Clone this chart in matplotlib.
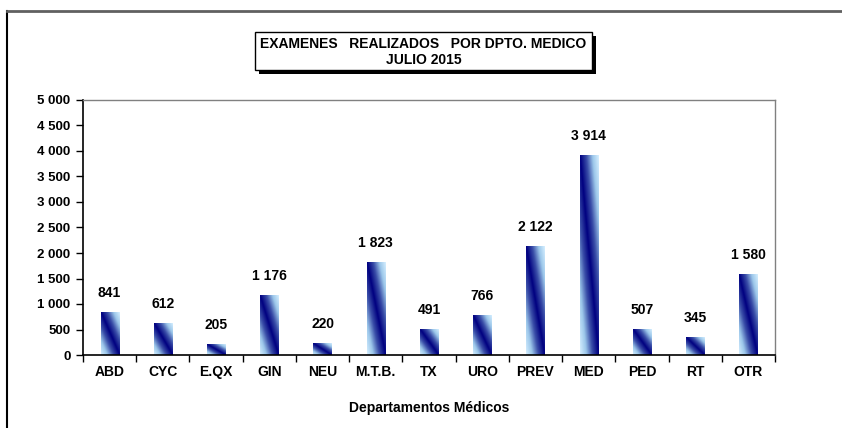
import numpy as np
import matplotlib
matplotlib.use("Agg")
import matplotlib.pyplot as plt
from matplotlib.patches import Rectangle
from matplotlib.lines import Line2D
from matplotlib.colors import LinearSegmentedColormap

categories = ["ABD", "CYC", "E.QX", "GIN", "NEU", "M.T.B.", "TX", "URO", "PREV", "MED", "PED", "RT", "OTR"]
values = [841, 612, 205, 1176, 220, 1823, 491, 766, 2122, 3914, 507, 345, 1580]
yticks = [0, 500, 1000, 1500, 2000, 2500, 3000, 3500, 4000, 4500, 5000]

def fmt(v):
    return f"{v:,}".replace(",", " ")

plt.rcParams['font.family'] = ['Liberation Sans', 'DejaVu Sans']

fig = plt.figure(figsize=(8.42, 4.28), dpi=100)
W, H = 842, 428
ax = fig.add_axes([83 / W, 1 - 355 / H, (775 - 83) / W, (355 - 100) / H])

cmap = LinearSegmentedColormap.from_list("g", ["#000080", "#3a4ea8", "#9cc7ea", "#d6efff"])
n = len(categories)
x = np.arange(n)
bw = 0.34
uu, vv = np.meshgrid(np.linspace(0, 1, 60), np.linspace(0, 1, 200))
d = np.abs(uu + vv - 1)
for xi, v in zip(x, values):
    ax.imshow(d, cmap=cmap, vmin=0, vmax=1, origin="lower", aspect="auto",
              extent=(xi - bw / 2, xi + bw / 2, 0, v), interpolation="bilinear", zorder=2)
    ax.annotate(fmt(v), (xi, v), xytext=(0, 9), textcoords="offset points",
                ha="center", va="bottom", fontsize=10, fontweight="bold")

ax.set_xlim(-0.5, n - 0.5)
ax.set_ylim(0, 5000)
ax.set_yticks(yticks)
ax.set_yticklabels([fmt(t) for t in yticks], fontsize=9.5, fontweight="bold")
ax.set_xticks(x)
ax.set_xticklabels(categories, fontsize=10, fontweight="bold")
ax.set_xticks(np.arange(n + 1) - 0.5, minor=True)
ax.tick_params(axis="x", which="major", length=0, pad=7)
ax.tick_params(axis="x", which="minor", length=5, width=1, direction="out")
ax.tick_params(axis="y", length=5, width=1, direction="out", pad=4)
for s in ["left", "bottom"]:
    ax.spines[s].set_color("black")
    ax.spines[s].set_linewidth(1.2)
for s in ["top", "right"]:
    ax.spines[s].set_color("#808080")
    ax.spines[s].set_linewidth(1.0)
ax.set_xlabel("Departamentos Médicos", fontsize=10, fontweight="bold", labelpad=16)

# outer frame
fig.add_artist(Line2D([7 / W, 7 / W], [0, 1 - 11 / H], color="black", lw=1.5))
fig.add_artist(Line2D([7 / W, 1], [1 - 11 / H, 1 - 11 / H], color="#606060", lw=2))

# title box with shadow
bx0, bx1, by0, by1 = 255, 592, 32, 70
fig.add_artist(Rectangle(((bx0 + 4) / W, 1 - (by1 + 4) / H), (bx1 - bx0) / W, (by1 - by0) / H,
                         facecolor="black", edgecolor="black", lw=0, transform=fig.transFigure))
fig.add_artist(Rectangle((bx0 / W, 1 - by1 / H), (bx1 - bx0) / W, (by1 - by0) / H,
                         facecolor="white", edgecolor="black", lw=1, transform=fig.transFigure))
fig.text((bx0 + bx1) / 2 / W, 1 - 44 / H, "EXAMENES   REALIZADOS   POR DPTO. MEDICO",
         ha="center", va="center", fontsize=10, fontweight="bold")
fig.text((bx0 + bx1) / 2 / W, 1 - 60 / H, "JULIO 2015",
         ha="center", va="center", fontsize=10, fontweight="bold")

fig.savefig("out.png", dpi=100)
